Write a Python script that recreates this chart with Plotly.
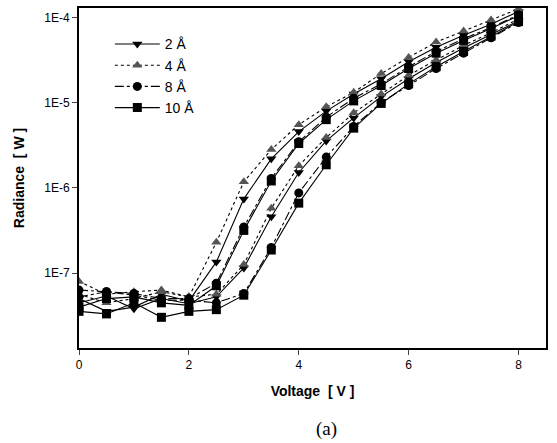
import plotly.graph_objects as go

voltage = [0, 0.5, 1, 1.5, 2, 2.5, 3, 3.5, 4, 4.5, 5, 5.5, 6, 6.5, 7, 7.5, 8]

# log10 of radiance [W] (two curves per thickness)
log_2A_a = [-7.30, -7.45, -7.40, -7.25, -7.33, -6.87, -6.13, -5.66, -5.34, -5.10, -4.90, -4.72, -4.52, -4.35, -4.21, -4.08, -3.93]
log_2A_b = [-7.35, -7.27, -7.42, -7.30, -7.36, -7.28, -6.94, -6.34, -5.82, -5.45, -5.18, -4.93, -4.72, -4.53, -4.36, -4.20, -4.04]
log_4A_a = [-7.10, -7.25, -7.22, -7.20, -7.28, -6.64, -5.93, -5.55, -5.26, -5.05, -4.88, -4.66, -4.47, -4.29, -4.16, -4.03, -3.90]
log_4A_b = [-7.25, -7.35, -7.30, -7.22, -7.28, -7.25, -6.90, -6.24, -5.74, -5.41, -5.12, -4.90, -4.68, -4.50, -4.33, -4.18, -4.02]
log_8A_a = [-7.20, -7.22, -7.24, -7.30, -7.30, -7.12, -6.46, -5.89, -5.46, -5.17, -4.95, -4.78, -4.58, -4.40, -4.25, -4.12, -3.97]
log_8A_b = [-7.28, -7.22, -7.26, -7.32, -7.32, -7.35, -7.24, -6.70, -6.06, -5.64, -5.28, -5.00, -4.80, -4.60, -4.42, -4.24, -4.06]
log_10A_a = [-7.40, -7.30, -7.28, -7.35, -7.38, -7.15, -6.50, -5.92, -5.48, -5.20, -4.98, -4.80, -4.60, -4.42, -4.27, -4.13, -3.98]
log_10A_b = [-7.45, -7.48, -7.35, -7.52, -7.45, -7.43, -7.26, -6.73, -6.18, -5.73, -5.30, -5.01, -4.78, -4.58, -4.40, -4.22, -4.05]

series_names = ["2 Å", "4 Å", "8 Å", "10 Å"]
series_curves = [(log_2A_a, log_2A_b), (log_4A_a, log_4A_b), (log_8A_a, log_8A_b), (log_10A_a, log_10A_b)]
y_tick_vals = [1e-7, 1e-6, 1e-5, 1e-4]
y_tick_text = ["1E-7", "1E-6", "1E-5", "1E-4"]
x_tick_vals = [0, 2, 4, 6, 8]

symbols = ["triangle-down", "triangle-up", "circle", "square"]
dashes = ["solid", "dot", "dashdot", "solid"]
mcolors = ["black", "#555555", "black", "black"]

fig = go.Figure()
for name, curves, sym, dash, mc in zip(series_names, series_curves, symbols, dashes, mcolors):
    for k, logs in enumerate(curves):
        fig.add_trace(go.Scatter(
            x=voltage, y=[10 ** v for v in logs], mode="lines+markers",
            name=name, legendgroup=name, showlegend=(k == 0),
            line=dict(color="black", width=1.1, dash=dash),
            marker=dict(symbol=sym, size=9, color=mc, line=dict(width=0)),
        ))

fig.update_layout(
    width=557, height=443,
    margin=dict(l=79, r=11, t=8, b=95),
    paper_bgcolor="white", plot_bgcolor="white",
    font=dict(family="Liberation Sans", color="black", size=12),
    showlegend=True,
    legend=dict(x=0.066, y=0.94, xanchor="left", yanchor="top",
                bgcolor="rgba(0,0,0,0)", font=dict(size=14),
                itemwidth=45, tracegroupgap=0),
    xaxis=dict(range=[0, 8.5], tickvals=x_tick_vals, ticks="outside", ticklen=5,
               showgrid=False, zeroline=False, showline=True, linecolor="black",
               linewidth=2, mirror=True, automargin=False,
               title=dict(text="<b>Voltage  [ V ]</b>", font=dict(size=14), standoff=15)),
    yaxis=dict(type="log", range=[-7.88, -3.89], tickvals=y_tick_vals, ticktext=y_tick_text,
               ticks="outside", ticklen=5, showgrid=False, zeroline=False,
               showline=True, linecolor="black", linewidth=2, mirror=True, automargin=False,
               title=dict(text="<b>Radiance  [ W ]</b>", font=dict(size=14), standoff=16)),
    annotations=[dict(text="(a)", x=0.53, y=-0.277, xref="paper", yref="paper",
                      showarrow=False, font=dict(family="Liberation Serif", size=19))],
)

fig.write_html("out.html", config={"displayModeBar": False},
               post_script="document.body.style.margin='0';")
